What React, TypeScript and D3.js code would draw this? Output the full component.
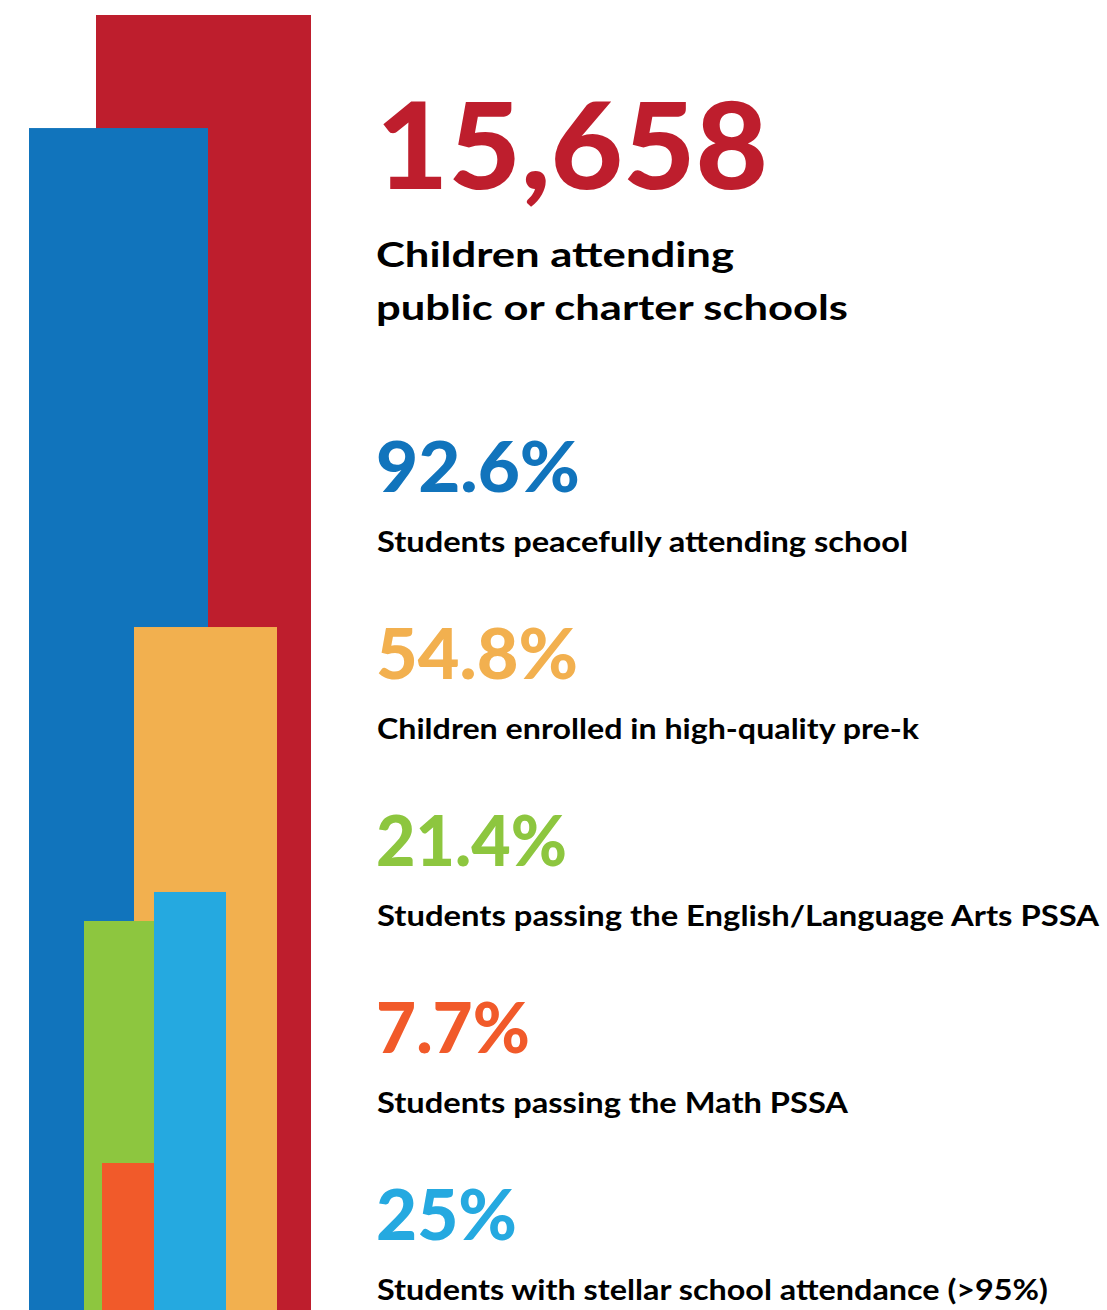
import React from "react";
import * as d3 from "d3";

// ---- data ----
const headlineValue = "15,658";
const headlineLines = ["Children attending", "public or charter schools"];
const statValues = ["92.6%", "54.8%", "21.4%", "7.7%", "25%"];
const statLabels = [
  "Students peacefully attending school",
  "Children enrolled in high-quality pre-k",
  "Students passing the English/Language Arts PSSA",
  "Students passing the Math PSSA",
  "Students with stellar school attendance (>95%)",
];
// bar keys (drawing order) and bar heights as drawn, in % of the tallest bar
const barKeys = ["enrollment", "peaceful", "prek", "stellar", "ela", "math"];
const barLevels = [100, 91.27, 52.74, 32.28, 30.04, 11.35];
const barColors = ["#BE1E2D", "#1174BC", "#F2B04F", "#25A9E0", "#8DC63F", "#F15A2A"];
const statColors = ["#1174BC", "#F2B04F", "#8DC63F", "#F15A2A", "#25A9E0"];

// ---- layout (positions kept separate from data) ----
const W = 1107;
const H = 1310;
const barSpans: Record<string, [number, number]> = {
  enrollment: [96, 311],
  peaceful: [29, 208],
  prek: [134, 277],
  stellar: [154, 226],
  ela: [84, 154],
  math: [102, 154],
};
const textX = 376;
const statTop = 492;
const statStep = 187;

export default function App() {
  const y = d3.scaleLinear().domain([0, 100]).range([H, 15]);
  const font = "Lato, 'Open Sans', sans-serif";
  return (
    <svg
      width={W}
      height={H}
      viewBox={`0 0 ${W} ${H}`}
      style={{ position: "absolute", left: 0, top: 0, background: "#fff" }}
    >
      <g>
        {barKeys.map((k, i) => {
          const [x0, x1] = barSpans[k];
          return (
            <rect
              key={k}
              x={x0}
              width={x1 - x0}
              y={y(barLevels[i])}
              height={y(0) - y(barLevels[i])}
              fill={barColors[i]}
            />
          );
        })}
      </g>
      <g fontFamily={font}>
        <text
          x={textX}
          y={189}
          fontSize={120}
          fontWeight={900}
          fill="#BE1E2D"
          textLength={392}
          lengthAdjust="spacingAndGlyphs"
        >
          {headlineValue}
        </text>
        {headlineLines.map((l, i) => (
          <text
            key={l}
            x={textX}
            y={267 + i * 53}
            fontSize={34}
            fontWeight={700}
            fill="#000"
            textLength={i === 0 ? 358 : 472}
            lengthAdjust="spacingAndGlyphs"
          >
            {l}
          </text>
        ))}
        {statValues.map((v, i) => {
          const numW = [204, 202, 191, 154, 141][i];
          const labW = [531, 542, 722, 471, 671][i];
          return (
            <g key={v} transform={`translate(${textX},${statTop + i * statStep})`}>
              <text
                x={0}
                y={0}
                fontSize={70}
                fontWeight={900}
                fill={statColors[i]}
                textLength={numW}
                lengthAdjust="spacingAndGlyphs"
              >
                {v}
              </text>
              <text
                x={1}
                y={60}
                fontSize={28}
                fontWeight={700}
                fill="#000"
                textLength={labW}
                lengthAdjust="spacingAndGlyphs"
              >
                {statLabels[i]}
              </text>
            </g>
          );
        })}
      </g>
    </svg>
  );
}
